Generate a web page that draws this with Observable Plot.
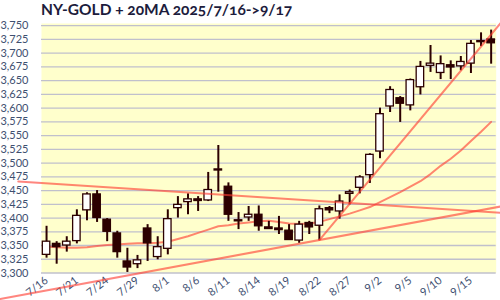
<!DOCTYPE html>
<html><head><meta charset="utf-8">
<script src="https://cdn.jsdelivr.net/npm/d3@7"></script>
<script src="https://cdn.jsdelivr.net/npm/@observablehq/plot@0.6"></script>
<style>
html,body{margin:0;padding:0;background:#fff;}
#wrap{position:relative;width:500px;height:300px;overflow:hidden;font-family:Lato,"Open Sans",sans-serif;}
#title{position:absolute;left:41px;top:0px;font-weight:bold;font-size:15.5px;color:#1c1c3c;font-variant-numeric:oldstyle-nums;white-space:nowrap;}
svg{display:block;}
</style></head><body><div id="wrap"><div id="title">NY-GOLD + 20MA 2025/7/16-&gt;9/17</div></div>
<script>
const dates = ["7/16","7/17","7/18","7/21","7/22","7/23","7/24","7/25","7/28","7/29","7/30","7/31",
  "8/1","8/4","8/5","8/6","8/7","8/8","8/11","8/12","8/13","8/14","8/15","8/18","8/19","8/20","8/21","8/22","8/25","8/26","8/27","8/28","8/29",
  "9/2","9/3","9/4","9/5","9/8","9/9","9/10","9/11","9/12","9/15","9/16","9/17"];
const opens  = [3333,3353,3350,3358,3414,3443,3397,3372,3321,3316,3381,3329,3344,3418,3429,3434,3432,3486.5,3457,3394,3401,3406,3383,3381,3377,3359,3391,3386,3418,3412,3444,3455,3478,3521,3603,3618,3605,3638,3677,3664,3678,3676,3681,3720,3725];
const highs  = [3385,3357,3366,3415,3446,3450,3399,3376,3345,3332,3388,3366,3415,3439,3444,3439,3483,3532,3464,3410,3421,3422,3394,3403,3388,3394,3394,3422,3421,3442,3451,3477,3517,3600,3639,3621,3653,3685,3714,3695,3686,3694,3723,3737,3742];
const lows   = [3327,3316,3338,3353,3395,3392,3357,3327,3301,3308,3321,3324,3333,3400,3406,3412,3430,3447,3394,3379,3394,3376,3380,3370,3360,3354,3370,3359,3408,3398,3424,3444,3463,3508,3592,3574,3595,3624,3665,3652,3652,3668,3663,3712,3680];
const closes = [3357,3347,3357,3404,3443,3400,3375,3338,3310,3323,3354,3347,3398,3424,3434,3431,3451,3488.5,3406,3396,3406,3385,3380,3378,3360,3388,3383,3416,3414,3430,3447,3474,3515,3589,3633,3608,3651,3675,3681,3680,3674,3684,3717,3722,3718];
const ma20   = [3348,3347,3346,3346,3347,3349,3351,3352,3353,3354,3354,3355,3357,3362,3367,3373,3379,3385,3387,3390,3392,3394,3395,3393,3390,3389,3390,3393,3398,3403,3408,3414,3420,3429,3438,3447,3457,3467,3480,3495,3508,3523,3540,3557,3575];
const xTickLabels = ["7/16","7/21","7/24","7/29","8/1","8/6","8/11","8/14","8/19","8/22","8/27","9/2","9/5","9/10","9/15"];
const yTicks = [3300,3325,3350,3375,3400,3425,3450,3475,3500,3525,3550,3575,3600,3625,3650,3675,3700,3725,3750];
// trend lines: endpoints as [day index, price]
const trendDown  = [[-2.8, 3466.6], [45, 3409.5]];
const trendUp    = [[-4.6, 3252.6], [45, 3421.2]];
const trendSteep = [[27, 3360], [45, 3756]];

const dark = "#2c0000";
const red = "#ff3b30";
const candles = dates.map((d, i) => ({i, d, o: opens[i], h: highs[i], l: lows[i], c: closes[i]}));
const maData = ma20.map((v, i) => ({i, v}));
const tickIdx = xTickLabels.map(t => dates.indexOf(t));
const lineOpts = {x: d => d[0], y: d => d[1], stroke: red, strokeOpacity: 0.62, strokeWidth: 2, clip: false};

const plot = Plot.plot({
  width: 500, height: 300,
  marginLeft: 41, marginRight: 4.3, marginTop: 23, marginBottom: 27.5,
  style: {fontFamily: "Lato, 'Open Sans', sans-serif", fontSize: "11px", background: "transparent", overflow: "visible"},
  x: {domain: [-0.5, 44.5], axis: null},
  y: {domain: [3300, 3754], axis: null},
  marks: [
    Plot.frame({fill: "#ffffcc", stroke: null}),
    Plot.ruleY(yTicks, {stroke: "#c0c0cc", strokeWidth: 1.3}),
    Plot.axisY({ticks: yTicks, tickSize: 0, tickPadding: 13, tickFormat: d3.format(","), fill: "#3e4f70", label: null}),
    Plot.axisX({ticks: tickIdx, tickSize: 0, tickPadding: 6, tickRotate: -38, tickFormat: i => dates[i], fill: "#3e4f70", label: null}),
    Plot.line(maData, {x: "i", y: "v", stroke: red, strokeOpacity: 0.62, strokeWidth: 2}),
    Plot.ruleX(candles, {x: "i", y1: "l", y2: "h", stroke: dark, strokeWidth: 2}),
    Plot.rect(candles, {x1: d => d.i - 0.37, x2: d => d.i + 0.37, y1: "o", y2: "c",
      fill: d => d.c >= d.o ? "#ffffff" : dark, stroke: dark, strokeWidth: 1.3}),
    Plot.line(trendDown, lineOpts),
    Plot.line(trendUp, lineOpts),
    Plot.line(trendSteep, lineOpts)
  ]
});
document.getElementById("wrap").appendChild(plot);
</script>
</body></html>
